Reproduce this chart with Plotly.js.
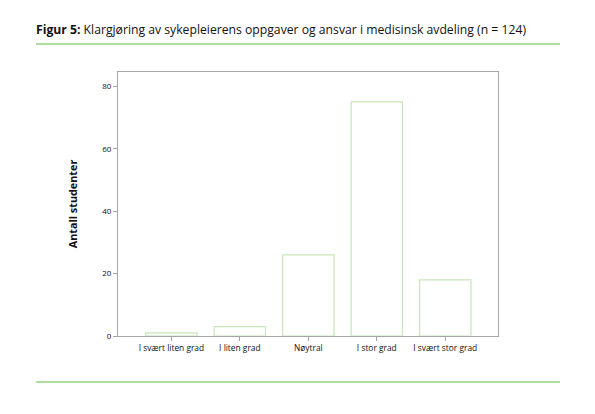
<!DOCTYPE html>
<html>
<head>
<meta charset="utf-8">
<script src="https://cdn.plot.ly/plotly-3.0.1.min.js"></script>
<style>
  html, body { margin: 0; padding: 0; background: #fff; }
  #chart { width: 595px; height: 414px; }
</style>
</head>
<body>
<div id="chart"></div>
<script>
const kategorier = ['I svært liten grad', 'I liten grad', 'Nøytral', 'I stor grad', 'I svært stor grad'];
const antall = [1, 3, 26, 75, 18];
const yTicks = [0, 20, 40, 60, 80];

const GRONN = '#95d47f';
const GRA = '#a6a6a6';
const FONT = '"Open Sans", sans-serif';

// plot area in pixels: x 118..498, y 72..336
const venstre = 118, hoyre = 498, topp = 72, bunn = 336;
const px = x => (x - venstre) / (hoyre - venstre);
const py = y => (bunn - y) / (bunn - topp);

const trace = {
  x: kategorier,
  y: antall,
  type: 'bar',
  marker: {
    color: 'rgba(255,255,255,1)',
    line: { color: 'rgba(149,212,127,0.55)', width: 1.2 }
  },
  hoverinfo: 'x+y'
};

const layout = {
  width: 595,
  height: 414,
  paper_bgcolor: '#fff',
  plot_bgcolor: '#fff',
  font: { family: FONT, color: '#111', size: 8 },
  showlegend: false,
  bargap: 0.25,
  margin: { l: venstre, r: 595 - hoyre, t: topp, b: 414 - bunn, pad: 0 },
  title: {
    text: '<b>Figur 5:</b> Klargjøring av sykepleierens oppgaver og ansvar i medisinsk avdeling (n = 124)',
    font: { family: FONT, size: 12.2, color: '#111' },
    x: 36 / 595,
    xanchor: 'left',
    xref: 'container',
    y: 1 - 30 / 414,
    yref: 'container',
    yanchor: 'middle'
  },
  xaxis: {
    range: [-0.78, 4.77],
    showline: true,
    linecolor: GRA,
    linewidth: 1,
    mirror: true,
    ticks: 'outside',
    ticklen: 4,
    tickcolor: GRA,
    showgrid: false,
    zeroline: false,
    tickfont: { size: 8.4, family: FONT, color: '#111' },
    fixedrange: true
  },
  yaxis: {
    range: [0, 84.6],
    tickvals: yTicks,
    showline: true,
    linecolor: GRA,
    linewidth: 1,
    mirror: true,
    ticks: 'outside',
    ticklen: 4,
    tickcolor: GRA,
    showgrid: false,
    zeroline: false,
    tickfont: { size: 8, family: FONT, color: '#111' },
    title: {
      text: '<b>Antall studenter</b>',
      font: { size: 10.8, family: FONT, color: '#111' },
      standoff: 22
    },
    fixedrange: true
  },
  shapes: [
    {
      type: 'line', xref: 'paper', yref: 'paper',
      x0: px(36), x1: px(560), y0: py(44), y1: py(44),
      line: { color: GRONN, width: 1.5 }
    },
    {
      type: 'line', xref: 'paper', yref: 'paper',
      x0: px(36), x1: px(560), y0: py(382), y1: py(382),
      line: { color: GRONN, width: 1.5 }
    }
  ]
};

Plotly.newPlot('chart', [trace], layout, { displayModeBar: false, staticPlot: true });
</script>
</body>
</html>
